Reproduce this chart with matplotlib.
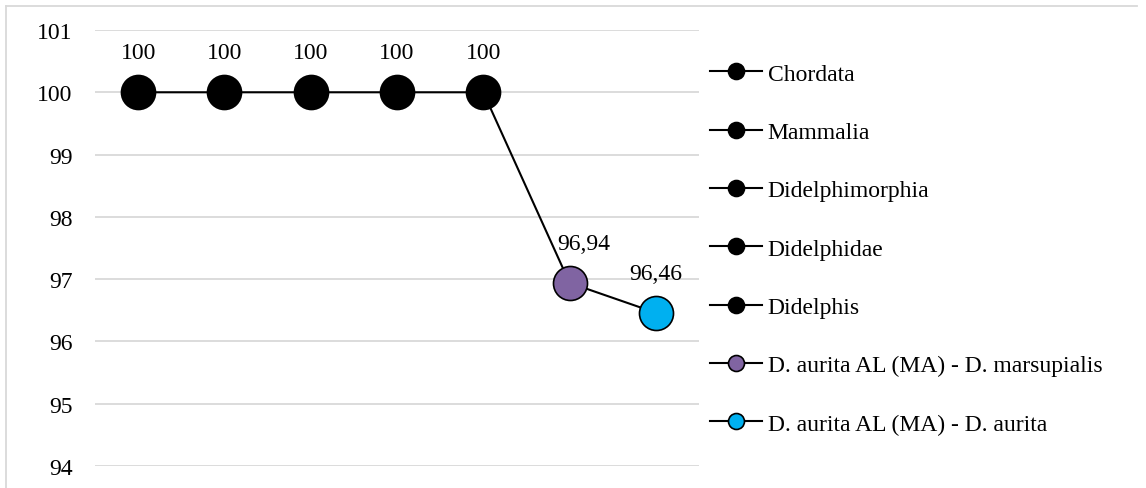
import matplotlib
matplotlib.use("Agg")
import matplotlib.pyplot as plt
from matplotlib.lines import Line2D

# data
categories = ["Chordata", "Mammalia", "Didelphimorphia", "Didelphidae", "Didelphis",
              "D. aurita AL (MA) - D. marsupialis", "D. aurita AL (MA) - D. aurita"]
values = [100, 100, 100, 100, 100, 96.94, 96.46]
point_colors = ["#000000"] * 5 + ["#8064A2", "#00B0F0"]
y_ticks = [94, 95, 96, 97, 98, 99, 100, 101]

plt.rcParams["font.family"] = ["Liberation Serif", "DejaVu Serif"]
plt.rcParams["font.size"] = 17

fig = plt.figure(figsize=(11.46, 4.89), dpi=100)
ax = fig.add_axes([95 / 1146, 1 - 467 / 489, (699 - 95) / 1146, (467 - 31) / 489])

xs = list(range(len(values)))
ax.plot(xs, values, color="black", lw=1.5, zorder=2)
for x, v, c in zip(xs, values, point_colors):
    ax.plot([x], [v], marker="o", ms=24.5, mfc=c, mec="black", mew=1.2,
            ls="none", zorder=3)
    txt = f"{v:g}".replace(".", ",")
    dx = 10 if x == 5 else 0
    ax.annotate(txt, (x, v), xytext=(dx, 28.5), textcoords="offset points",
                ha="center", va="center", fontsize=17)

ax.set_xlim(-0.5, len(values) - 0.5)
ax.set_ylim(94, 101)
ax.set_yticks(y_ticks)
ax.set_xticks([])
ax.grid(axis="y", color="#D9D9D9", lw=1.3)
ax.set_axisbelow(True)
for s in ax.spines.values():
    s.set_visible(False)
ax.tick_params(axis="y", length=0, pad=16)

handles = [Line2D([0], [0], color="black", lw=1.5, marker="o", ms=11.5,
                  mfc=c, mec="black", mew=1.2) for c in point_colors]
fig.legend(handles, categories, loc="upper left", bbox_to_anchor=(710 / 1146, 1 - 64 / 489),
           frameon=False, handlelength=2.2, handletextpad=0.25, labelspacing=1.56,
           borderaxespad=0, borderpad=0, fontsize=17)

# chart area border (top and left visible)
fig.add_artist(Line2D([6 / 1146, 1137 / 1146], [1 - 7 / 489, 1 - 7 / 489],
                      color="#D9D9D9", lw=1.3))
fig.add_artist(Line2D([6 / 1146, 6 / 1146], [0, 1 - 7 / 489],
                      color="#D9D9D9", lw=1.3))

fig.savefig("out.png", dpi=100)
